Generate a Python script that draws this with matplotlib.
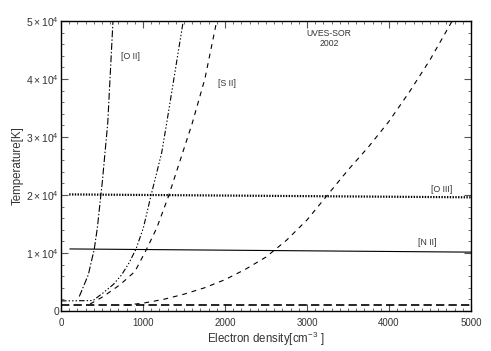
import matplotlib
matplotlib.use('Agg')
import matplotlib.pyplot as plt
from matplotlib.ticker import MultipleLocator, FixedLocator

plt.rcParams['font.family'] = ['Liberation Sans', 'DejaVu Sans']
plt.rcParams['mathtext.fontset'] = 'custom'
plt.rcParams['mathtext.rm'] = 'Liberation Sans'
plt.rcParams['mathtext.it'] = 'Liberation Sans:italic'
plt.rcParams['lines.scale_dashes'] = False

# curves (electron density, temperature)
oii_ne = [223, 333, 406, 443, 484, 504, 570, 634]
oii_T = [2500, 6250, 10700, 14300, 19700, 22300, 32400, 50000]

mid_ne = [0, 110, 390, 516, 640, 740, 830, 915, 1004, 1094, 1228, 1289, 1491]
mid_T = [1750, 1750, 1800, 3150, 4600, 6250, 8300, 10700, 14300, 19700, 27300, 32400, 50000]

sii_ne = [354, 516, 720, 902, 1045, 1167, 1309, 1601, 1756, 1899]
sii_T = [1200, 2500, 4530, 6820, 10700, 14300, 19700, 32400, 40100, 50000]

wide_ne = [780, 1000, 1250, 1500, 1750, 2000, 2250, 2500, 2750, 3000, 3250,
           3500, 3750, 4000, 4250, 4500, 4770]
wide_T = [1000, 1350, 2000, 2900, 4000, 5400, 7200, 9300, 12200, 15700, 20000,
          24300, 28300, 32700, 37800, 43300, 50000]

oiii_ne = [100, 5000]
oiii_T = [20100, 19600]

nii_ne = [110, 5000]
nii_T = [10700, 10150]

base_ne = [0, 5000]
base_T = [950, 950]

ytick_vals = [0, 10000, 20000, 30000, 40000, 50000]
ytick_labels = ['0', r'$1\times10^{4}$', r'$2\times10^{4}$', r'$3\times10^{4}$',
                r'$4\times10^{4}$', r'$5\times10^{4}$']

fig = plt.figure(figsize=(4.91, 3.51), dpi=100)
ax = fig.add_axes([61 / 491, 1 - 311 / 351, 410 / 491, 290 / 351])

ax.plot(oii_ne, oii_T, color='k', lw=0.8, dashes=(5, 1.5, 1, 1.5))
ax.plot(mid_ne, mid_T, color='k', lw=0.8, dashes=(4, 1.5, 1, 1.5, 1, 1.5, 1, 1.5))
ax.plot(sii_ne, sii_T, color='k', lw=0.8, dashes=(3.5, 3.5))
ax.plot(wide_ne, wide_T, color='k', lw=0.8, dashes=(3.5, 3.5))
ax.plot(base_ne, base_T, color='k', lw=1.2, dashes=(6, 3))
ax.plot(oiii_ne, oiii_T, color='k', lw=1.6, dashes=(1, 1), solid_capstyle='butt')
ax.plot(nii_ne, nii_T, color='k', lw=0.8)

tcol = '#333333'
ax.text(841, 43900, '[O II]', fontsize=6.3, color=tcol, ha='center', va='center')
ax.text(2024, 39300, '[S II]', fontsize=6.3, color=tcol, ha='center', va='center')
ax.text(3268, 47000, 'UVES-SOR\n2002', fontsize=6.2, color=tcol, ha='center',
        va='center', linespacing=1.15)
ax.text(4646, 20900, '[O III]', fontsize=6.3, color=tcol, ha='center', va='center')
ax.text(4463, 11750, '[N II]', fontsize=6.3, color=tcol, ha='center', va='center')

ax.set_xlim(0, 5000)
ax.set_ylim(0, 50000)
ax.xaxis.set_major_locator(MultipleLocator(1000))
ax.xaxis.set_minor_locator(MultipleLocator(100))
ax.yaxis.set_major_locator(FixedLocator(ytick_vals))
ax.set_yticklabels(ytick_labels)
ax.yaxis.set_minor_locator(MultipleLocator(2000))

ax.tick_params(which='both', direction='in', top=True, right=True, color='#555555',
               labelcolor=tcol)
ax.tick_params(which='major', length=5, width=0.8)
ax.tick_params(which='minor', length=2.3, width=0.6)
ax.tick_params(axis='x', pad=5, labelsize=7)
ax.tick_params(axis='y', pad=1.5, labelsize=7.5)
for s in ax.spines.values():
    s.set_linewidth(1.0)

ax.set_xlabel(r'Electron density[cm$^{-3}$ ]', fontsize=8.3, color=tcol, labelpad=1)
ax.set_ylabel('Temperature[K]', fontsize=8.3, color=tcol, labelpad=2)

fig.savefig('out.png', dpi=100)
